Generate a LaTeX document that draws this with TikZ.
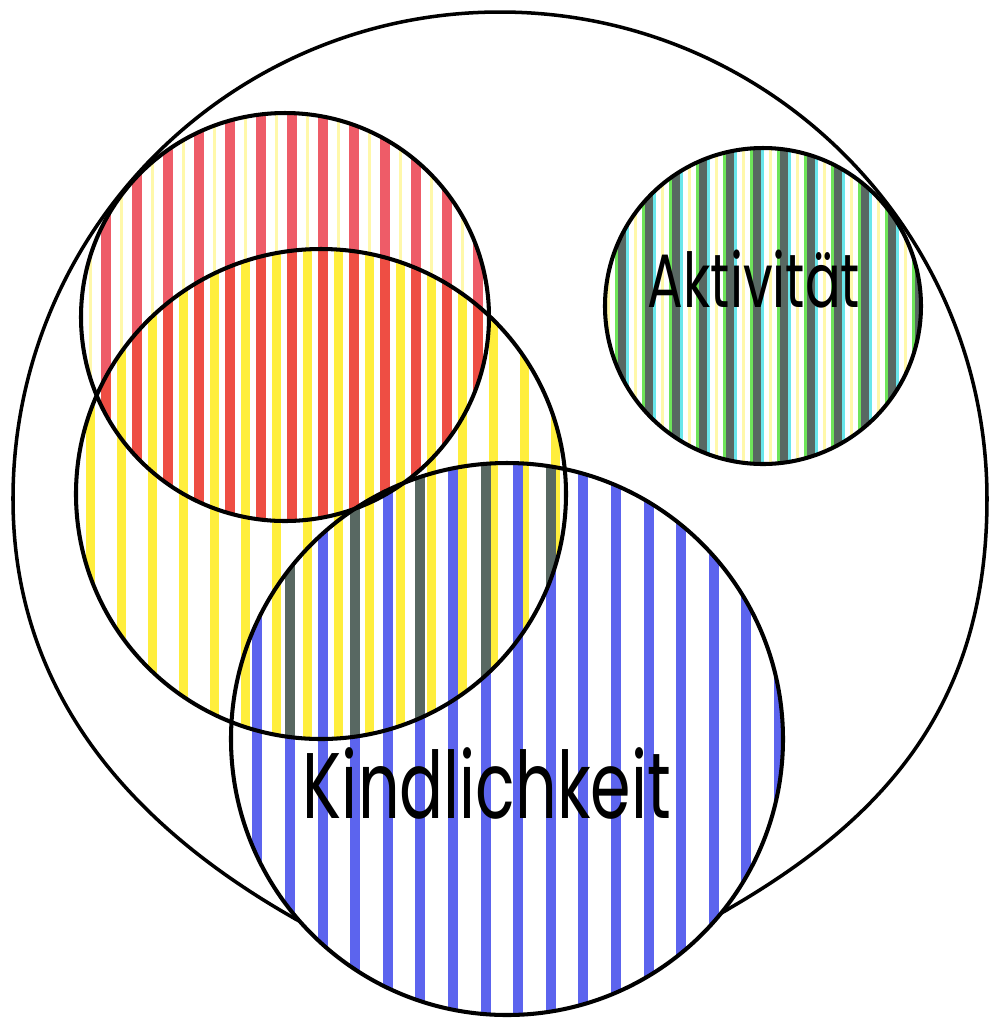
\documentclass[tikz,border=0pt]{standalone}
\usepackage{fontspec}
\newfontfamily\labelfont[FakeStretch=0.70]{Poppins}
\usepackage{tikz}
\usetikzlibrary{calc}

\definecolor{redline}{RGB}{238,92,104}
\definecolor{orangeline}{RGB}{238,78,68}
\definecolor{yellowline}{RGB}{255,238,60}
\definecolor{paleyellow}{RGB}{255,248,170}
\definecolor{blueline}{RGB}{92,100,238}
\definecolor{greyline}{RGB}{88,104,98}
\definecolor{greenline}{RGB}{110,228,90}
\definecolor{cyanline}{RGB}{105,230,235}

\begin{document}
\begin{tikzpicture}[x=0.01cm, y=-0.01cm,
    ring/.style={line width=1.15pt},
    stripe/.style={line width=2.8pt},
    thinstripe/.style={line width=0.8pt},
    label/.style={inner sep=0pt, anchor=base}]
    \useasboundingbox (0,0) rectangle (1000,1023);

    \coordinate (rc) at (285,317);
    \coordinate (yc) at (321,494);
    \coordinate (bc) at (507,739);
    \coordinate (gc) at (763,306);

    % outer boundary
    \draw[line width=1pt] (13,499) arc[start angle=180, end angle=360, radius=487]
        .. controls (987,700) and (890,815) .. (730,908)
        .. controls (650,960) and (370,965) .. (292,917)
        .. controls (140,830) and (13,700) .. cycle;
    \fill[white] (bc) circle (276);

    % red
    \begin{scope}
        \clip (rc) circle (204);
        \foreach \k in {0,...,14}
            \draw[stripe, redline] ({75+31*\k},100) -- ({75+31*\k},530);
        \foreach \k in {0,...,14}
            \draw[thinstripe, paleyellow] ({90.5+31*\k},100) -- ({90.5+31*\k},530);
    \end{scope}

    % yellow
    \begin{scope}
        \clip (yc) circle (245);
        \foreach \k in {-1,...,16}
            \draw[stripe, yellowline] ({90.5+31*\k},240) -- ({90.5+31*\k},750);
        \clip (rc) circle (204);
        \foreach \k in {0,...,14}
            \draw[stripe, orangeline] ({75+31*\k},100) -- ({75+31*\k},530);
    \end{scope}

    % blue
    \begin{scope}
        \clip (bc) circle (276);
        \foreach \k in {-2,...,16}
            \draw[stripe, blueline] ({290+32.6*\k},450) -- ({290+32.6*\k},1020);
        \clip (yc) circle (245);
        \foreach \k in {-2,0,...,16}
            \draw[stripe, greyline] ({290+32.6*\k},450) -- ({290+32.6*\k},1020);
    \end{scope}

    % green
    \begin{scope}
        \clip (gc) circle (158);
        \foreach \k in {-1,...,12} {
            \draw[thinstripe, paleyellow] ({635.5+27*\k},140) -- ({635.5+27*\k},470);
            \draw[thinstripe, greenline] ({616.5+27*\k},140) -- ({616.5+27*\k},470);
            \draw[thinstripe, cyanline] ({627.5+27*\k},140) -- ({627.5+27*\k},470);
            \draw[line width=2pt, greyline] ({622+27*\k},140) -- ({622+27*\k},470);
        }
    \end{scope}

    \draw[ring] (rc) circle (204);
    \draw[ring] (yc) circle (245);
    \draw[ring] (bc) circle (276);
    \draw[ring] (gc) circle (158);

    \node[label, font=\labelfont\fontsize{21.5}{21.5}\selectfont] (akt) at (754,307) {Aktivität};
    \node[label, font=\labelfont\fontsize{26.5}{26.5}\selectfont] (kind) at (487,818) {Kindlichkeit};
\end{tikzpicture}
\end{document}
